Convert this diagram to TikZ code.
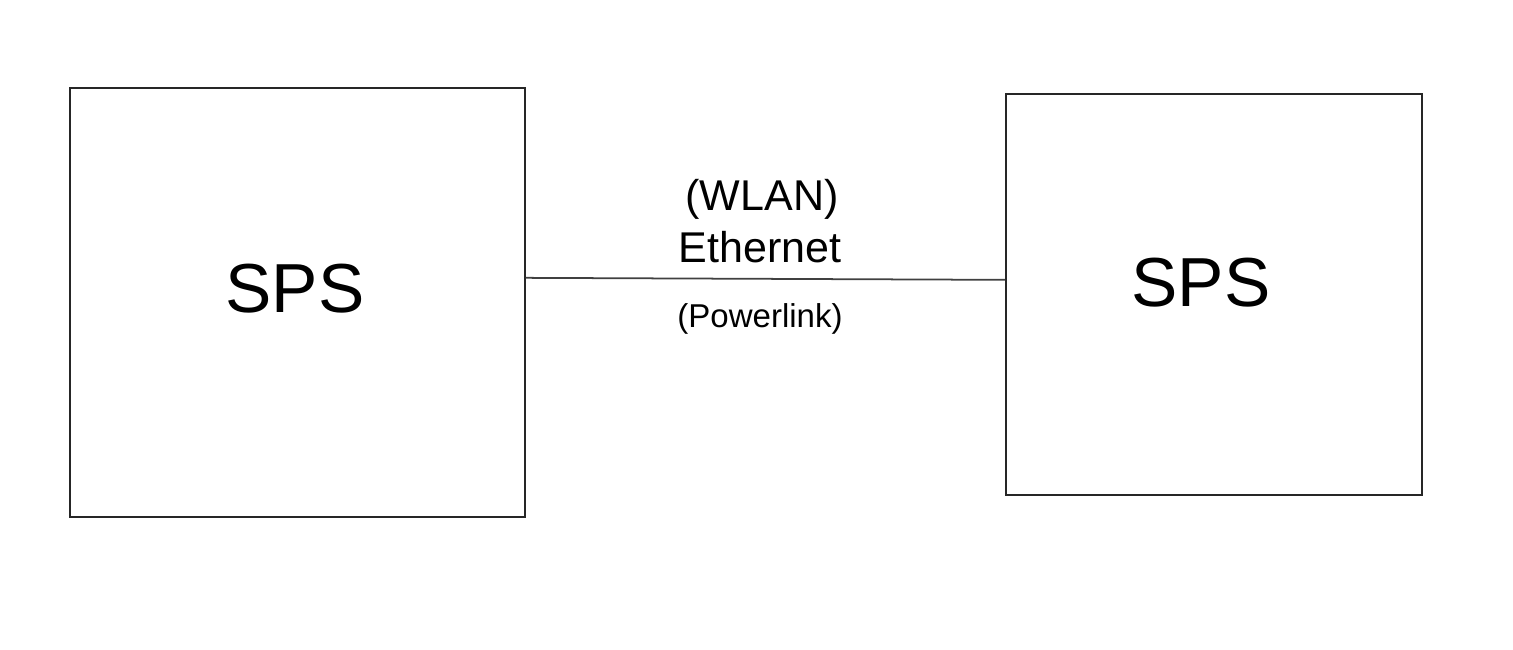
\documentclass[tikz,border=0pt]{standalone}
\usepackage{fontspec}
\setmainfont{Liberation Sans}
\begin{document}
\begin{tikzpicture}[x=0.02cm,y=-0.02cm,
	sps/.style={draw=black!85,line width=1pt,inner sep=0pt,anchor=north west},
	big/.style={font=\fontsize{39.5}{44}\selectfont,anchor=base,inner sep=0pt},
	mid/.style={font=\fontsize{24.5}{28}\selectfont,anchor=base,inner sep=0pt},
	small/.style={font=\fontsize{18.8}{22}\selectfont,anchor=base,inner sep=0pt}]
\useasboundingbox (0,0) rectangle (1513,649);
\node[sps,minimum width=9.1cm,minimum height=8.58cm] (lbox) at (69,87) {};
\node[sps,minimum width=8.32cm,minimum height=8.02cm] (rbox) at (1005,93) {};
\node[big] (lsps) at (295,312) {SPS};
\node[big] (rsps) at (1201,306) {SPS};
\node[mid] (wlan) at (762,210) {(WLAN)};
\node[mid] (eth) at (760,262) {Ethernet};
\node[small] (plink) at (760,327) {(Powerlink)};
\draw[black!75,line width=1pt] ([yshift=0.49cm]lbox.east) -- ([yshift=0.29cm]rbox.west);
\end{tikzpicture}
\end{document}
